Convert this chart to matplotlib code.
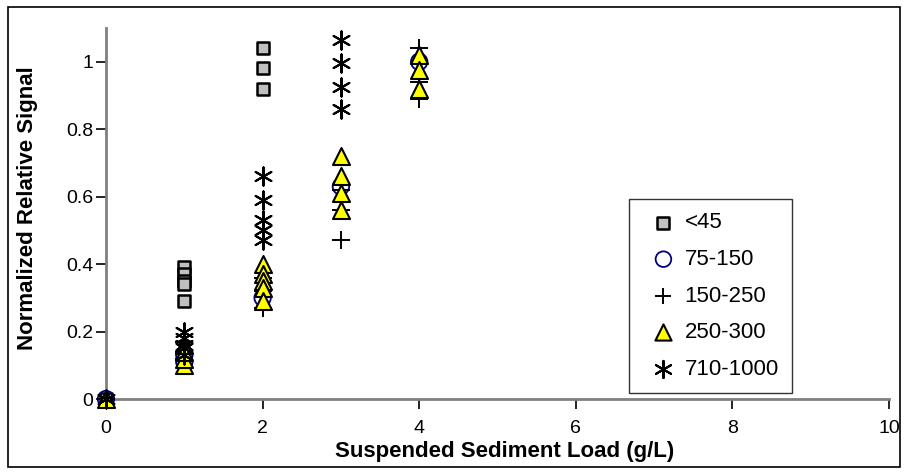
import matplotlib
matplotlib.use("Agg")
import matplotlib.pyplot as plt
from matplotlib.patches import Rectangle

plt.rcParams['font.family'] = ['Liberation Sans', 'DejaVu Sans']

# Data (suspended sediment load g/L vs normalized relative signal)
x_lt45 = [0, 1, 1, 1, 1, 1, 2, 2, 2]
y_lt45 = [0, 0.39, 0.37, 0.35, 0.34, 0.29, 1.04, 0.98, 0.92]

x_75_150 = [0, 1, 1, 2, 3, 4]
y_75_150 = [0, 0.11, 0.13, 0.30, 0.63, 1.00]

x_150_250 = [0, 1, 1, 1, 2, 2, 2, 3, 3, 3, 4, 4, 4]
y_150_250 = [0, 0.12, 0.14, 0.17, 0.27, 0.32, 0.36, 0.47, 0.56, 0.62, 1.04, 0.94, 0.89]

x_250_300 = [0, 1, 1, 1, 1, 2, 2, 2, 2, 2, 3, 3, 3, 3, 4, 4, 4]
y_250_300 = [0, 0.10, 0.12, 0.14, 0.16, 0.40, 0.37, 0.35, 0.33, 0.29,
             0.72, 0.66, 0.61, 0.56, 1.02, 0.975, 0.92]

x_710_1000 = [0, 1, 1, 1, 1, 1, 2, 2, 2, 2, 2, 3, 3, 3, 3]
y_710_1000 = [0, 0.20, 0.18, 0.16, 0.15, 0.13, 0.66, 0.59, 0.53, 0.50, 0.47,
              1.065, 0.995, 0.925, 0.86]

labels = ['<45', '75-150', '150-250', '250-300', '710-1000']
x_ticks = [0, 2, 4, 6, 8, 10]
y_ticks = [0, 0.2, 0.4, 0.6, 0.8, 1]
y_ticklabels = ['0', '0.2', '0.4', '0.6', '0.8', '1']

W, H = 908, 474
fig = plt.figure(figsize=(W / 100, H / 100), dpi=100)
ax = fig.add_axes([106 / W, 1 - 399 / H, (889 - 106) / W, (399 - 28) / H])

ax.scatter(x_lt45, y_lt45, marker='s', s=85, facecolor='#C0C0C0',
           edgecolor='black', linewidth=1.8, label=labels[0], zorder=3)
ax.scatter(x_75_150, y_75_150, marker='o', s=140, facecolor='none',
           edgecolor='#000080', linewidth=1.3, label=labels[1], zorder=3)
ax.scatter(x_150_250, y_150_250, marker='+', s=150, color='black',
           linewidth=1.4, label=labels[2], zorder=4)
ax.scatter(x_250_300, y_250_300, marker='^', s=150, facecolor='#FFFF00',
           edgecolor='black', linewidth=1.5, label=labels[3], zorder=5)
ax.scatter(x_710_1000, y_710_1000, marker=(6, 2, 0), s=170, color='black',
           linewidth=1.5, label=labels[4], zorder=6)

ax.set_xlim(0, 10)
ax.set_ylim(0, 1.1)
ax.set_xticks(x_ticks)
ax.set_xticklabels([str(t) for t in x_ticks])
ax.set_yticks(y_ticks)
ax.set_yticklabels(y_ticklabels)
ax.tick_params(axis='both', direction='out', length=7, width=1.2,
               color='black', labelsize=14)
ax.tick_params(axis='x', pad=8)
ax.tick_params(axis='y', pad=2)
for s in ['top', 'right']:
    ax.spines[s].set_visible(False)
for s in ['left', 'bottom']:
    ax.spines[s].set_color('#808080')
    ax.spines[s].set_linewidth(2)
for c in ax.collections:
    c.set_clip_on(False)

fig.text(28 / W, 1 - 208 / H, 'Normalized Relative Signal', rotation=90,
         ha='center', va='center', fontsize=16, fontweight='bold')
fig.text(505 / W, 1 - 451 / H, 'Suspended Sediment Load (g/L)',
         ha='center', va='center', fontsize=16, fontweight='bold')

leg = ax.legend(loc='lower left', bbox_to_anchor=(629 / W, 1 - 393 / H),
                bbox_transform=fig.transFigure, borderaxespad=0,
                frameon=True, fancybox=False, edgecolor='black',
                fontsize=16, labelspacing=0.7, handletextpad=0.0,
                handlelength=1.9, borderpad=0.6, markerscale=0.95)
leg.get_frame().set_linewidth(1.0)

fig.patches.append(Rectangle((8 / W, 1 - 467 / H), (900 - 8) / W, (467 - 7) / H,
                             transform=fig.transFigure, fill=False,
                             edgecolor='black', linewidth=1.2))

fig.savefig('out.png', dpi=100)
